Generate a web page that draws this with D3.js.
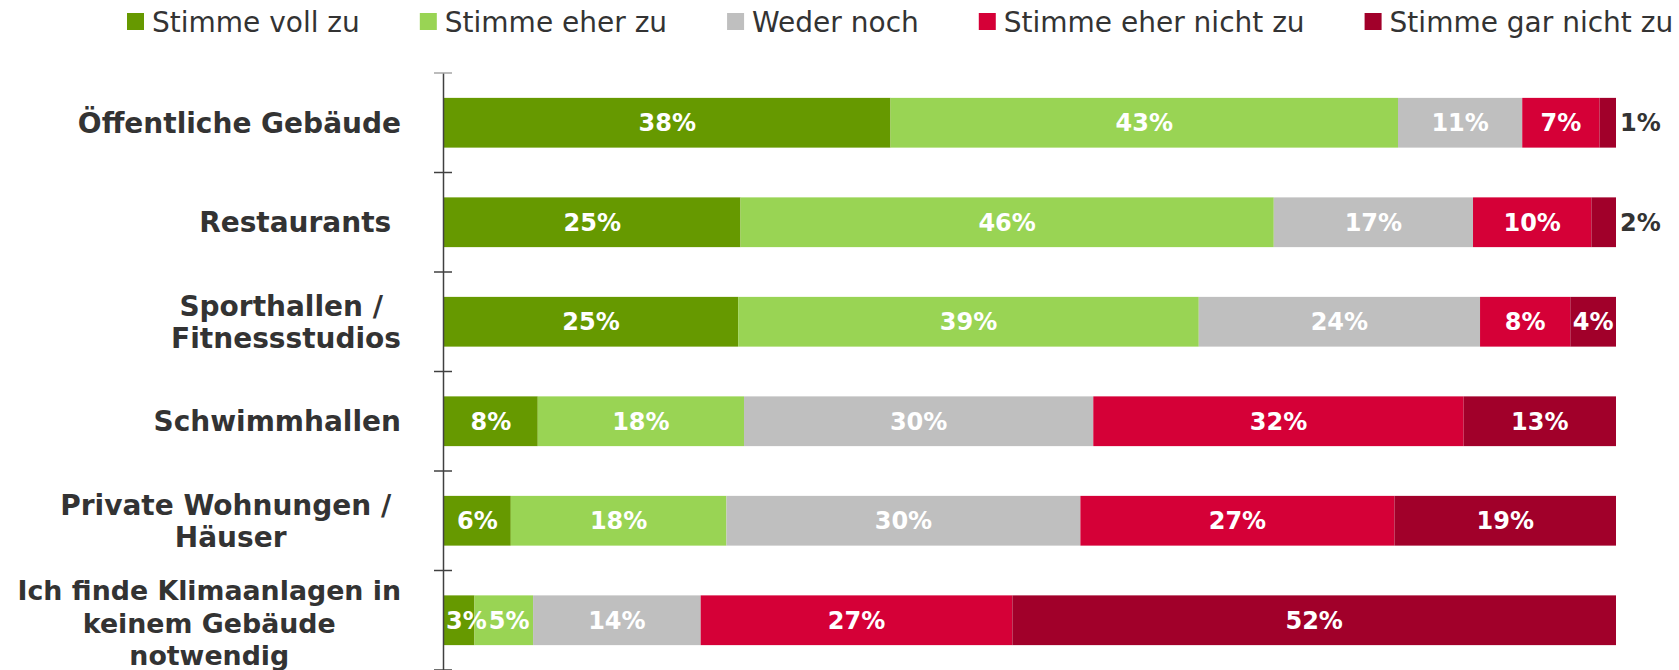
<!DOCTYPE html>
<html>
<head>
<meta charset="utf-8">
<script src="https://cdn.jsdelivr.net/npm/d3@7"></script>
<style>
  html, body { margin: 0; padding: 0; background: #ffffff; }
  svg { display: block; }
  text { white-space: pre; }
</style>
</head>
<body>
<svg id="chart" width="1679" height="670"></svg>
<script>
// ---- data ----
const categories = [
  "Öffentliche Gebäude",
  "Restaurants",
  "Sporthallen / Fitnessstudios",
  "Schwimmhallen",
  "Private Wohnungen / Häuser",
  "Ich finde Klimaanlagen in keinem Gebäude notwendig"
];
const categoryLines = [
  ["Öffentliche Gebäude"],
  ["Restaurants\u00A0"],
  ["Sporthallen /\u00A0", "Fitnessstudios"],
  ["Schwimmhallen"],
  ["Private Wohnungen /\u00A0", "Häuser"],
  ["Ich finde Klimaanlagen in", "keinem Gebäude", "notwendig"]
];
const seriesNames = ["Stimme voll zu", "Stimme eher zu", "Weder noch", "Stimme eher nicht zu", "Stimme gar nicht zu"];
const vollZu    = [38.1, 25.3, 25.1,  8.0,  5.7,  2.6];
const eherZu    = [43.3, 45.5, 39.3, 17.6, 18.4,  5.0];
const weder     = [10.6, 17.0, 24.0, 29.8, 30.2, 14.3];
const eherNicht = [ 6.6, 10.1,  7.7, 31.6, 26.8, 26.6];
const garNicht  = [ 1.4,  2.1,  3.9, 13.0, 18.9, 51.5];
const seriesColors = ["#669900", "#99D454", "#BFBFBF", "#D50037", "#A1002A"];

// ---- build table ----
const seriesValues = [vollZu, eherZu, weder, eherNicht, garNicht];
const table = categories.map((c, i) => {
  const row = { category: c, idx: i };
  seriesNames.forEach((s, j) => row[s] = seriesValues[j][i]);
  return row;
});
const stacked = d3.stack().keys(seriesNames)(table);

const svg = d3.select("#chart");
const x = d3.scaleLinear().domain([0, 100]).range([444, 1616]);
const y = d3.scaleBand().domain(categories).range([73, 670]).paddingInner(0.5).paddingOuter(0.25);
const color = d3.scaleOrdinal().domain(seriesNames).range(seriesColors);

// ---- bars ----
const gBars = svg.append("g");
stacked.forEach(layer => {
  gBars.append("g").attr("fill", color(layer.key))
    .selectAll("rect").data(layer).join("rect")
    .attr("x", d => x(d[0]))
    .attr("y", d => y(d.data.category))
    .attr("width", d => x(d[1]) - x(d[0]))
    .attr("height", y.bandwidth());
});

// ---- value labels ----
const gLab = svg.append("g")
  .attr("font-family", "DejaVu Sans, Verdana, sans-serif")
  .attr("font-weight", "bold")
  .attr("font-size", 24);
categories.forEach((c, i) => {
  let prevRight = x(0);
  const cy = y(c) + y.bandwidth() / 2;
  stacked.forEach(layer => {
    const d = layer[i];
    const v = d[1] - d[0];
    const label = Math.round(v) + "%";
    if (v < 2.5) {
      gLab.append("text")
        .attr("x", x(d[1]) + 4)
        .attr("y", cy)
        .attr("dy", "0.36em")
        .attr("fill", "#333333")
        .attr("text-anchor", "start")
        .text(label);
      return;
    }
    const t = gLab.append("text")
      .attr("y", cy)
      .attr("dy", "0.36em")
      .attr("fill", "#ffffff")
      .attr("text-anchor", "start")
      .text(label);
    const w = t.node().getComputedTextLength();
    const center = (x(d[0]) + x(d[1])) / 2;
    const left = Math.max(center - w / 2, prevRight + 2);
    t.attr("x", left);
    prevRight = left + w;
  });
});

// ---- category labels ----
const gCat = svg.append("g")
  .attr("font-family", "DejaVu Sans, Verdana, sans-serif")
  .attr("font-weight", "bold")
  .attr("fill", "#333333");
const labelRight = 401;
categories.forEach((c, i) => {
  const lines = categoryLines[i];
  const fs = lines.length > 2 ? 26.8 : 28;
  const lineH = lines.length > 2 ? 32.5 : 32;
  const cy = y(c) + y.bandwidth() / 2 + (lines.length > 2 ? 3 : 0);
  const texts = lines.map((ln, k) => gCat.append("text")
    .attr("font-size", fs)
    .attr("text-anchor", "middle")
    .attr("y", cy + (k - (lines.length - 1) / 2) * lineH)
    .attr("dy", "0.36em")
    .text(ln));
  const maxW = d3.max(texts, t => t.node().getComputedTextLength());
  texts.forEach(t => t.attr("x", labelRight - maxW / 2));
});

// ---- axis ----
const gAxis = svg.append("g");
const step = y.step();
const y0 = y.range()[0];
gAxis.append("line")
  .attr("x1", 443.5).attr("x2", 443.5)
  .attr("y1", y0).attr("y2", y.range()[1])
  .attr("stroke", "#404040").attr("stroke-width", 1.5);
d3.range(categories.length + 1).forEach(k => {
  gAxis.append("line")
    .attr("x1", 434).attr("x2", 452)
    .attr("y1", y0 + k * step).attr("y2", y0 + k * step)
    .attr("stroke", k === 0 ? "#a6a6a6" : "#404040")
    .attr("stroke-width", 1.5);
});

// ---- legend ----
const gLeg = svg.append("g")
  .attr("font-family", "DejaVu Sans, Verdana, sans-serif")
  .attr("font-size", 28)
  .attr("fill", "#333333");
let lx = 127;
seriesNames.forEach(s => {
  gLeg.append("rect")
    .attr("x", lx).attr("y", 13).attr("width", 17).attr("height", 17)
    .attr("fill", color(s));
  const t = gLeg.append("text")
    .attr("x", lx + 25)
    .attr("y", 22)
    .attr("dy", "0.36em")
    .text(s);
  lx += 25 + t.node().getComputedTextLength() + 60;
});
</script>
</body>
</html>
